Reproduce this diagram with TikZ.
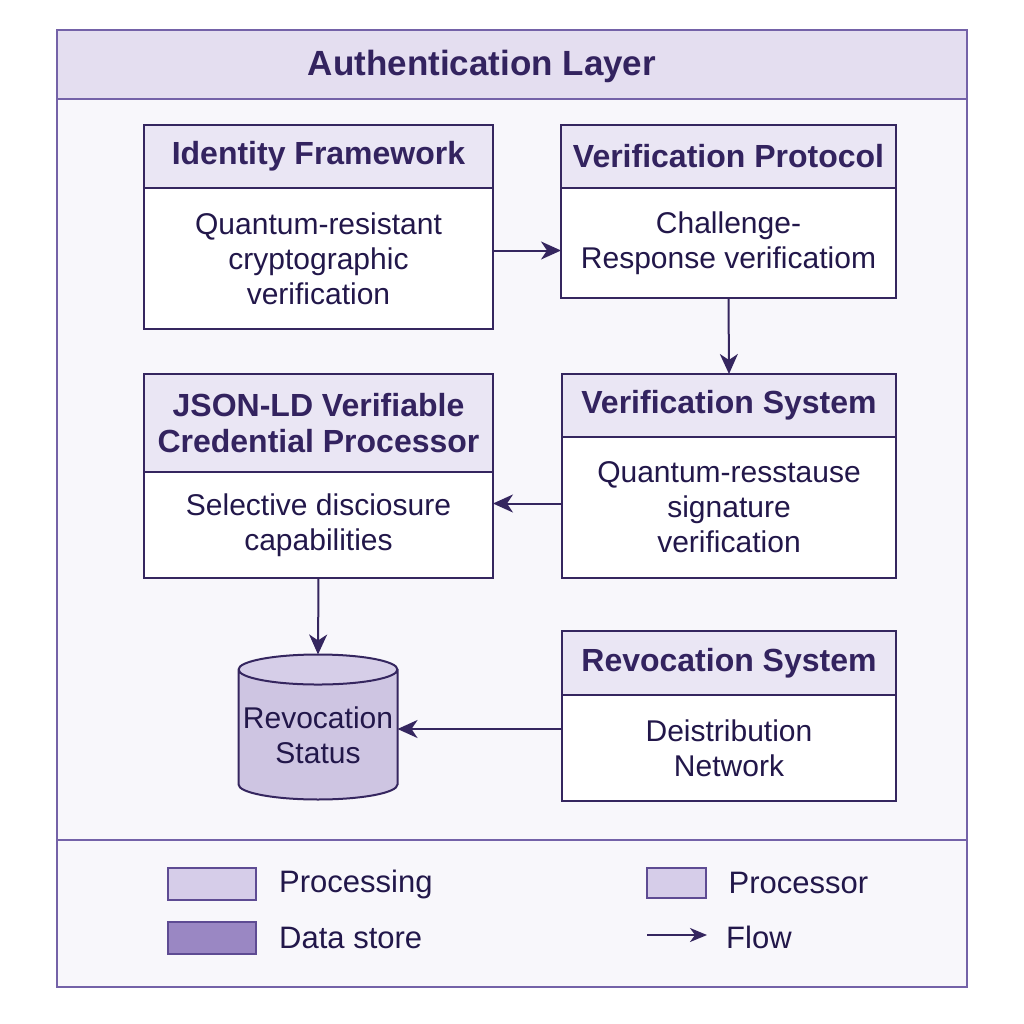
\documentclass[tikz,border=0pt]{standalone}
\usepackage{fontspec}
\setmainfont{Liberation Sans}
\usetikzlibrary{positioning,shapes.geometric,arrows.meta}
\definecolor{frameline}{HTML}{7462A8}
\definecolor{titlefill}{HTML}{E4DEF0}
\definecolor{innerbg}{HTML}{F8F7FB}
\definecolor{boxline}{HTML}{35265F}
\definecolor{headfill}{HTML}{EAE6F4}
\definecolor{headtext}{HTML}{33235F}
\definecolor{bodytext}{HTML}{22174A}
\definecolor{cylfill}{HTML}{CEC5E2}
\definecolor{cylend}{HTML}{D6CEE8}
\definecolor{procfill}{HTML}{D6CDE9}
\definecolor{storefill}{HTML}{9A87C3}
\definecolor{legline}{HTML}{5E4B93}
\begin{document}
\begin{tikzpicture}[x=1pt,y=-1pt,
  head/.style={draw=boxline,line width=2pt,fill=headfill,font=\fontsize{32}{36}\selectfont\bfseries,
    text=headtext,align=center,inner sep=0pt,outer sep=0pt},
  body/.style={draw=boxline,line width=2pt,fill=white,font=\fontsize{30}{35}\selectfont,
    text=bodytext,align=center,inner sep=0pt,outer sep=0pt},
  flow/.style={-{Stealth[length=20pt,width=18pt,inset=6pt]},line width=2pt,draw=boxline},
  swatch/.style={draw=legline,line width=2pt,minimum width=88pt,minimum height=32pt,inner sep=0pt},
  legtext/.style={font=\fontsize{31}{34}\selectfont,text=bodytext,anchor=west,inner sep=0pt}]

% Canvas and layer frame.
\fill[white] (0,0) rectangle (1024,1024);
\useasboundingbox (0,0) rectangle (1024,1024);
\fill[innerbg] (57,30) rectangle (967,987);
\fill[titlefill] (57,30) rectangle (967,99);
\draw[frameline,line width=2.5pt] (57,99) -- (967,99);
\draw[frameline,line width=2.5pt] (57,840) -- (967,840);
\draw[frameline,line width=2.5pt] (57,30) rectangle (967,987);
\node[font=\fontsize{35}{40}\selectfont\bfseries,text=headtext] (title) at (482,66) {Authentication Layer};

% Upper row.
\node[head,minimum width=349pt,minimum height=63pt] (idhead) at (318.5,156.5) {Identity Framework};
\node[body,minimum width=349pt,minimum height=141pt,below=0pt of idhead] (idbody)
 {Quantum-resistant\\cryptographic\\verification};
\node[head,minimum width=335pt,minimum height=63pt] (vphead) at (728.5,156.5) {Verification Protocol};
\node[body,minimum width=335pt,minimum height=110pt,below=0pt of vphead] (vpbody)
 {Challenge-\\Response verificatiom};

% Middle row.
\node[head,minimum width=349pt,minimum height=98pt] (jshead) at (318.5,423) {JSON-LD Verifiable\\Credential Processor};
\node[body,minimum width=349pt,minimum height=106pt,below=0pt of jshead] (jsbody)
 {Selective disciosure\\capabilities};
\node[head,minimum width=334pt,minimum height=63pt] (vshead) at (729,405.5) {Verification System};
\node[body,minimum width=334pt,minimum height=141pt,below=0pt of vshead] (vsbody)
 {Quantum-resstause\\signature\\verification};

% Lower row.
\node[cylinder,shape border rotate=90,aspect=0.2,draw=boxline,line width=2pt,
  cylinder uses custom fill,cylinder body fill=cylfill,cylinder end fill=cylend,
  minimum width=159pt,minimum height=145pt,inner sep=0pt,outer sep=0pt,
  font=\fontsize{30}{35}\selectfont,text=bodytext] (store) at (318,735)
 {\raisebox{-10pt}[0pt][0pt]{\begin{tabular}{@{}c@{}}Revocation\\Status\end{tabular}}};
\node[head,minimum width=334pt,minimum height=64pt] (rshead) at (729,663) {Revocation System};
\node[body,minimum width=334pt,minimum height=106pt,below=0pt of rshead] (rsbody)
 {Deistribution\\Network};

% Flows.
\draw[flow] ([yshift=8pt]idbody.east) -- ([yshift=8pt]idbody.east -| vpbody.west);
\draw[flow] (vpbody.south) -- (vshead.north);
\draw[flow] ([yshift=4pt]vsbody.west) -- ([yshift=4pt]vsbody.west -| jsbody.east);
\draw[flow] (jsbody.south) -- (store.north);
\draw[flow] ([yshift=19pt]rsbody.west) -- ([yshift=19pt]rsbody.west -| store.east);

% Legend.
\node[swatch,fill=procfill] (procsw) at (212,884) {};
\node[legtext,right=22pt of procsw] (proclab) {Processing};
\node[swatch,fill=storefill] (storesw) at (212,938) {};
\node[legtext,right=22pt of storesw] (storelab) {Data store};
\node[swatch,fill=procfill,minimum width=59pt,minimum height=30pt] (cpusw) at (676,883) {};
\node[legtext,right=22pt of cpusw] (cpulab) {Processor};
\coordinate (flowa) at (647,935);
\coordinate (flowb) at (707,935);
\node[legtext] (flowlab) at (726,937) {Flow};
\draw[-{Stealth[length=17pt,width=14pt,inset=5pt]},line width=1.8pt,draw=boxline] (flowa) -- (flowb);
\end{tikzpicture}
\end{document}
